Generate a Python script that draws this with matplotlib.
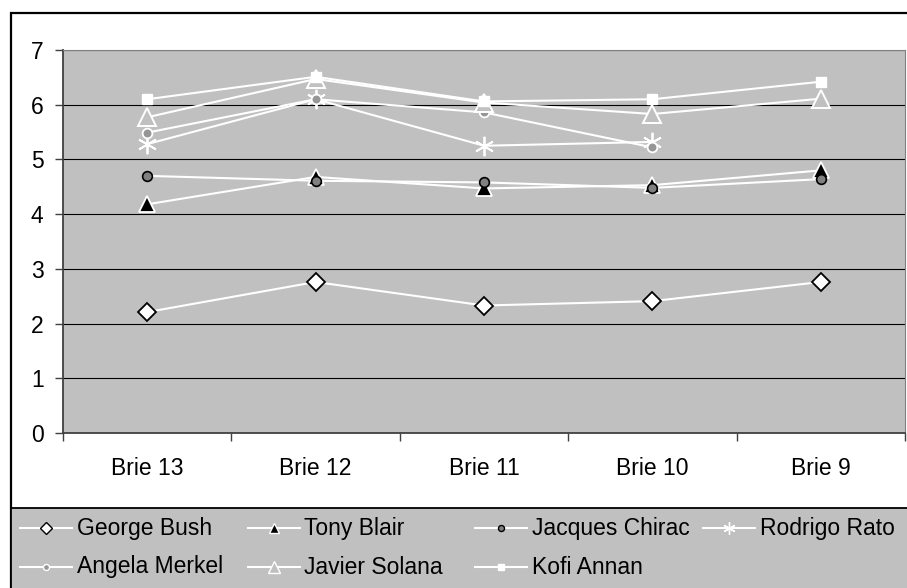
import matplotlib
matplotlib.use("Agg")
import matplotlib.pyplot as plt
from matplotlib.patches import Rectangle
from matplotlib.lines import Line2D

plt.rcParams['font.family'] = ['Liberation Sans', 'DejaVu Sans']

# datos
categorias = ['Brie 13', 'Brie 12', 'Brie 11', 'Brie 10', 'Brie 9']
george_bush = [2.21, 2.76, 2.33, 2.41, 2.76]
tony_blair = [4.18, 4.68, 4.47, 4.53, 4.80]
jacques_chirac = [4.70, 4.61, 4.58, 4.48, 4.64]
rodrigo_rato = [5.28, 6.10, 5.25, 5.32]
angela_merkel = [5.49, 6.10, 5.86, 5.22]
javier_solana = [5.77, 6.47, 6.04, 5.83, 6.11]
kofi_annan = [6.10, 6.51, 6.06, 6.10, 6.42]

W, H = 907, 588
fig = plt.figure(figsize=(W / 100, H / 100), dpi=100)
fondo = '#C0C0C0'

def fx(px):
    return px / W

def fy(py):
    return (H - py) / H

# borde exterior del grafico
fig.patches.append(Rectangle((fx(11), -0.1), 1.1, fy(13) + 0.1, transform=fig.transFigure,
                             facecolor='none', edgecolor='black', lw=1.6, zorder=-1))

ax = fig.add_axes([fx(63), fy(433), fx(905 - 63), (433 - 50) / H])
ax.set_facecolor(fondo)

x = list(range(len(categorias)))
series = [
    ('George Bush', george_bush, dict(marker='D', ms=9.5, mfc='white', mec='black', mew=1.3)),
    ('Tony Blair', tony_blair, dict(marker='^', ms=12, mfc='black', mec='white', mew=1.3)),
    ('Jacques Chirac', jacques_chirac, dict(marker='o', ms=7, mfc='#808080', mec='black', mew=1.2)),
    ('Rodrigo Rato', rodrigo_rato, dict(marker=(6, 2, 0), ms=14, mfc='white', mec='white', mew=1.3)),
    ('Angela Merkel', angela_merkel, dict(marker='o', ms=7, mfc='#969696', mec='white', mew=1.3)),
    ('Javier Solana', javier_solana, dict(marker='^', ms=13, mfc=fondo, mec='white', mew=1.4)),
    ('Kofi Annan', kofi_annan, dict(marker='s', ms=7, mfc='white', mec='white', mew=1)),
]
for nombre, valores, estilo in series:
    ax.plot(x[:len(valores)], valores, color='white', lw=1.5, label=nombre, **estilo)

ax.set_xlim(-0.5, len(categorias) - 0.5)
ax.set_ylim(0, 7)
ax.set_yticks(range(0, 8))
ax.grid(axis='y', color='black', lw=0.8)
ax.set_axisbelow(True)

# ticks en los limites de categoria, etiquetas en el centro
ax.set_xticks([i - 0.5 for i in range(len(categorias) + 1)])
ax.set_xticklabels([])
ax.set_xticks(x, minor=True)
ax.set_xticklabels(categorias, minor=True)
ax.tick_params(axis='x', which='minor', length=0, pad=17, labelsize=16.5)
ax.tick_params(axis='x', which='major', length=6, width=1, color='#404040', direction='out')
ax.tick_params(axis='y', length=6, width=1, color='#404040', pad=8, labelsize=16.5)

for lado in ['top', 'right']:
    ax.spines[lado].set_color('#808080')
for lado in ['left', 'bottom']:
    ax.spines[lado].set_color('#404040')
    ax.spines[lado].set_linewidth(1.3)

# caja de la leyenda
fig.patches.append(Rectangle((fx(11), -0.1), 1.1, fy(508) + 0.1, transform=fig.transFigure,
                             facecolor=fondo, edgecolor='black', lw=1.3, zorder=1))

# leyenda a mano: 4 columnas de ancho fijo como en excel
for i, (nombre, valores, estilo) in enumerate(series):
    fila, col = divmod(i, 4)
    x0 = 20 + col * 227.5
    y0 = 528 + fila * 39
    est = dict(estilo)
    est['ms'] = est['ms'] * 0.62
    est['mew'] = 1
    fig.add_artist(Line2D([fx(x0), fx(x0 + 52)], [fy(y0), fy(y0)], color='white', lw=1.5,
                          transform=fig.transFigure, zorder=2))
    fig.add_artist(Line2D([fx(x0 + 26)], [fy(y0)], linestyle='none', transform=fig.transFigure,
                          zorder=3, **est))
    fig.text(fx(x0 + 57), fy(y0), nombre, fontsize=16.5, va='center', ha='left', zorder=3)

fig.savefig('out.png', dpi=100)
